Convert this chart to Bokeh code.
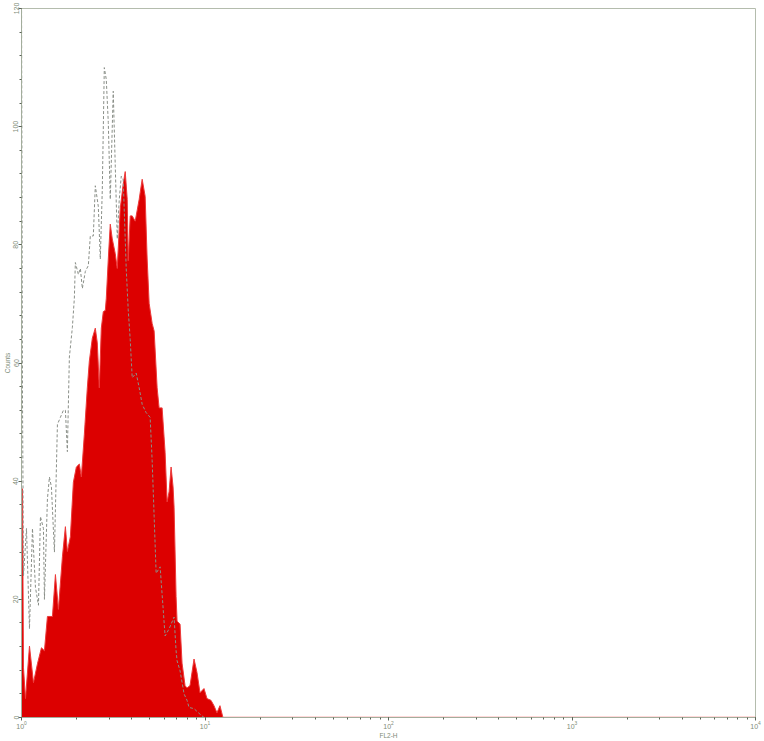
from bokeh.plotting import figure
from bokeh.models import Range1d, LogTicker, BasicTicker
from bokeh.embed import file_html
from bokeh.resources import INLINE

# Filled histogram (red): FL2-H value vs counts
red_x = [1.000, 1.0126, 1.0253, 1.0513, 1.1052, 1.1620, 1.2217, 1.2844, 1.3335, 1.3845,
         1.4743, 1.5307, 1.5891, 1.6709, 1.7348, 1.7783, 1.8464, 1.9170, 1.9904, 2.0665,
         2.1190, 2.2000, 2.2842, 2.3422, 2.4318, 2.5249, 2.5888, 2.6546, 2.7220, 2.7910,
         2.8620, 2.8973, 2.9713, 3.0466, 3.1239, 3.2434, 3.3255, 3.4514, 3.5837, 3.6750,
         3.7682, 3.8155, 3.9124, 4.0117, 4.1652, 4.3785, 4.5459, 4.7196, 4.8393, 4.9621,
         5.1523, 5.2826, 5.4841, 5.6234, 5.8383, 6.0613, 6.2150, 6.3727, 6.5343, 6.7000,
         6.7844, 6.9566, 7.0443, 7.3133, 7.4989, 7.7852, 7.9827, 8.2875, 8.7129, 9.0456,
         9.3910, 9.8757, 10.254, 10.780, 11.193, 11.620, 12.064, 12.525]
red_counts = [38.7, 38.7, 8.4, 3.2, 12.1, 5.9, 9.1, 11.8, 11.3, 17.1,
              17.1, 24.2, 18.3, 27.2, 32.3, 28.1, 30.6, 39.8, 42.4, 42.9,
              40.7, 47.9, 55.8, 60.3, 64.2, 65.9, 63.4, 55.8, 65.9, 68.7,
              68.9, 70.9, 77.6, 83.5, 81.0, 78.5, 76.0, 86.1, 90.3, 92.4,
              87.7, 77.3, 84.9, 84.9, 84.0, 87.7, 91.1, 88.2, 77.6, 70.1,
              66.7, 65.4, 55.8, 52.4, 52.4, 44.9, 36.5, 38.2, 42.4, 39.0,
              35.6, 20.5, 16.3, 15.8, 9.2, 5.4, 5.0, 5.4, 9.9, 7.6,
              4.2, 4.9, 3.2, 2.9, 2.0, 0.8, 2.0, 0.0]

# Overlay histogram (dashed outline)
ctl_x = [1.0, 1.0, 1.0126, 1.0253, 1.0646, 1.1052, 1.1476, 1.1915, 1.2373, 1.2683,
         1.3168, 1.3335, 1.3845, 1.4198, 1.4558, 1.5116, 1.5693, 1.6294, 1.6918, 1.7348,
         1.7783, 1.8233, 1.8932, 1.9413, 1.9658, 2.0411, 2.0928, 2.1459, 2.2280, 2.3134,
         2.3714, 2.4623, 2.5249, 2.6216, 2.6881, 2.7563, 2.8264, 2.8973, 2.9713, 3.0466,
         3.1623, 3.2434, 3.3255, 3.4097, 3.4963, 3.5837, 3.7210, 3.8155, 3.9124, 4.0117,
         4.2170, 4.3785, 4.5459, 4.7788, 5.0245, 5.1523, 5.2826, 5.4163, 5.6944, 5.9117,
         6.0613, 6.3727, 6.7844, 6.9566, 7.0443, 7.3133, 7.6884, 7.9827, 8.1851, 8.7129,
         9.2816, 9.8757, 10000]
ctl_counts = [0, 125, 54, 24, 32, 15, 32, 22, 19, 34,
              32, 20, 37, 40.7, 39, 28, 49.6, 50.8, 52, 52,
              45, 61, 66, 71, 77, 75, 76, 72.6, 75.5, 76.5,
              81.5, 81.5, 90, 86.5, 77.6, 89.4, 110, 108, 100.7, 87.7,
              106, 93.3, 81, 87.7, 91.6, 91, 76, 69, 64, 57.5,
              58.3, 55.8, 53, 51.6, 50.8, 43.5, 34, 24.4, 25.5, 18.5,
              13.8, 15, 17, 11.3, 9.6, 7.9, 4, 2.9, 1.7, 1.5,
              0.7, 0, 0]

zero_x = [12.525, 10000]
zero_y = [0, 0]

x_label = "FL2-H"
y_label = "Counts"

AX = "#a3ad9c"
TX = "#7e8c78"

p = figure(width=764, height=741, x_axis_type="log",
           x_range=Range1d(1, 10000), y_range=Range1d(0, 120),
           output_backend="svg", toolbar_location=None,
           min_border_left=0, min_border_right=9, min_border_top=8, min_border_bottom=0)

p.varea(x=red_x, y1=0, y2=red_counts, fill_color="#dc0000")
p.line(red_x, red_counts, line_color="#ec3a3a", line_width=1)
p.line(zero_x, zero_y, line_color="#ff6a6a", line_width=1.5)
p.line(ctl_x, ctl_counts, line_color="#8a8f88", line_width=1, line_dash="3 2")

p.xgrid.visible = False
p.ygrid.visible = False
p.outline_line_color = "#b4bcad"
p.outline_line_width = 1
p.background_fill_color = "white"
p.border_fill_color = "white"

p.yaxis.ticker = BasicTicker(desired_num_ticks=6, num_minor_ticks=5)
p.xaxis.ticker = LogTicker(num_minor_ticks=10)

for ax in (p.xaxis[0], p.yaxis[0]):
    ax.axis_line_color = AX
    ax.major_tick_line_color = "#5a6356"
    ax.minor_tick_line_color = "#5a6356"
    ax.major_tick_in = 0
    ax.minor_tick_in = 0
    ax.major_tick_out = 3
    ax.minor_tick_out = 2
    ax.major_label_text_color = TX
    ax.major_label_text_font = "Liberation Sans"
    ax.major_label_text_font_size = "7px"
    ax.major_label_standoff = 0
    ax.axis_label_text_color = TX
    ax.axis_label_text_font = "Liberation Sans"
    ax.axis_label_text_font_size = "6.5px"
    ax.axis_label_text_font_style = "normal"
    ax.axis_label_standoff = 0

p.xaxis.axis_label = x_label
p.yaxis.axis_label = y_label
p.yaxis.major_label_orientation = "vertical"

open("out.html", "w").write(file_html(p, INLINE))
